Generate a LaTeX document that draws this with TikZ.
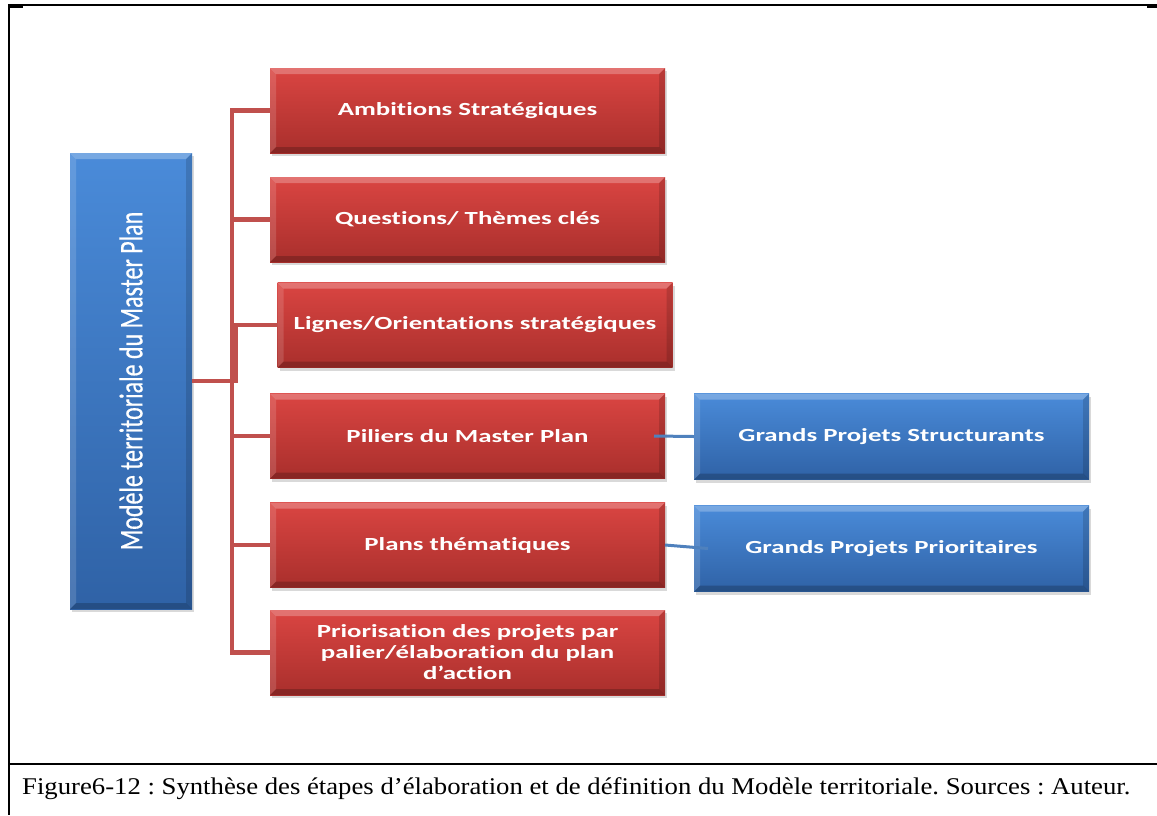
\documentclass[tikz,border=0pt]{standalone}
\usepackage{fontspec}
\setmainfont{Liberation Serif}
\newfontfamily\capfont[FakeStretch=1.113]{Liberation Serif}
\newfontfamily\boxfont[FakeStretch=1.45, Ligatures=NoCommon]{Carlito}
\newfontfamily\sidefont[FakeBold=0.6, Ligatures=NoCommon]{Carlito}
\usetikzlibrary{shadows}
\frenchspacing

\definecolor{redtop}{HTML}{DA4542}
\definecolor{redbot}{HTML}{A92F2C}
\definecolor{bluetop}{HTML}{4A8BD9}
\definecolor{bluebot}{HTML}{2F62A6}
\definecolor{trunkred}{HTML}{C0504D}
\definecolor{linkblue}{HTML}{4F81BD}

\tikzset{
  bevelbox/.style={rectangle, inner sep=0pt, outer sep=0pt, text=white, align=center,
    drop shadow={opacity=0.3, shadow xshift=2pt, shadow yshift=-3pt},
    path picture={
      \coordinate (pnw) at (path picture bounding box.north west);
      \coordinate (pne) at (path picture bounding box.north east);
      \coordinate (psw) at (path picture bounding box.south west);
      \coordinate (pse) at (path picture bounding box.south east);
      \fill[white, opacity=0.25] (pnw) -- (pne) -- ([xshift=-6pt,yshift=-6pt]pne) -- ([xshift=6pt,yshift=-6pt]pnw) -- cycle;
      \fill[white, opacity=0.14] (pnw) -- ([xshift=6pt,yshift=-6pt]pnw) -- ([xshift=6pt,yshift=6pt]psw) -- (psw) -- cycle;
      \fill[black, opacity=0.14] (pne) -- (pse) -- ([xshift=-6pt,yshift=6pt]pse) -- ([xshift=-6pt,yshift=-6pt]pne) -- cycle;
      \fill[black, opacity=0.2] (psw) -- (pse) -- ([xshift=-6pt,yshift=6pt]pse) -- ([xshift=6pt,yshift=6pt]psw) -- cycle;
    }},
  redbox/.style={bevelbox, top color=redtop, bottom color=redbot,
    minimum width=395pt, minimum height=85pt,
    font=\boxfont\bfseries\fontsize{18.5}{21}\selectfont},
  bluebox/.style={bevelbox, top color=bluetop, bottom color=bluebot,
    minimum width=395pt, minimum height=86pt,
    font=\boxfont\bfseries\fontsize{18.5}{21}\selectfont},
  trunk/.style={draw=trunkred, line width=4.5pt},
  link/.style={draw=linkblue, line width=3pt},
  frame/.style={draw=black, line width=2pt}
}

\begin{document}
\begin{tikzpicture}[x=1pt, y=-1pt]
\useasboundingbox (0,0) rectangle (1157,815);

% outer frame and caption rule
\draw[frame] (8,5) -- (1150,5);
\fill[black] (8,4) rectangle (23,7.5);
\fill[black] (1147,4) rectangle (1157,7.5);
\draw[frame] (9,4) -- (9,815);
\draw[frame] (8,764) -- (1157,764);

% junction columns of the red connector
\coordinate (spine) at (232,0);
\coordinate (jog) at (236,0);

% boxes
\node[bevelbox, top color=bluetop, bottom color=bluebot,
      minimum width=122pt, minimum height=456pt] (model) at (131,381)
  {\rotatebox{90}{\scalebox{1}[1.38]{\sidefont\fontsize{24}{28}\selectfont Modèle territoriale du Master Plan}}};

\node[redbox] (r1) at (467.5,110.5) {Ambitions Stratégiques};
\node[redbox] (r2) at (467.5,219.5) {Questions/ Thèmes clés};
\node[redbox] (r3) at (475,325) {Lignes/Orientations stratégiques};
\node[redbox] (r4) at (467.5,436) {Piliers du Master Plan};
\node[redbox] (r5) at (467.5,545) {Plans thématiques};
\node[redbox] (r6) at (467.5,652.5) {Priorisation des projets par\\palier/élaboration du plan\\d’action};

\node[bluebox] (b1) at (891.5,436.5) {Grands Projets Structurants};
\node[bluebox] (b2) at (891.5,548.5) {Grands Projets Prioritaires};

% red tree connector
\draw[trunk] (r1.west) -- (r1.west -| spine) -- (r6.west -| spine) -- (r6.west);
\foreach \n in {r2,r4,r5} \draw[trunk] (\n.west -| spine) -- (\n.west);
\draw[trunk] (model.east) -| (jog |- r3.west) -- (r3.west);

% blue links
\draw[link] ([xshift=-11pt]r4.east) -- (b1.west);
\draw[link] (r5.east) -- ([xshift=14pt]b2.west);

% caption
\node[anchor=base west, font=\capfont\fontsize{24}{28}\selectfont, inner sep=0pt] (caption) at (22,794)
  {Figure6-12 : Synthèse des étapes d’élaboration et de définition du Modèle territoriale. Sources : Auteur.};
\end{tikzpicture}
\end{document}
